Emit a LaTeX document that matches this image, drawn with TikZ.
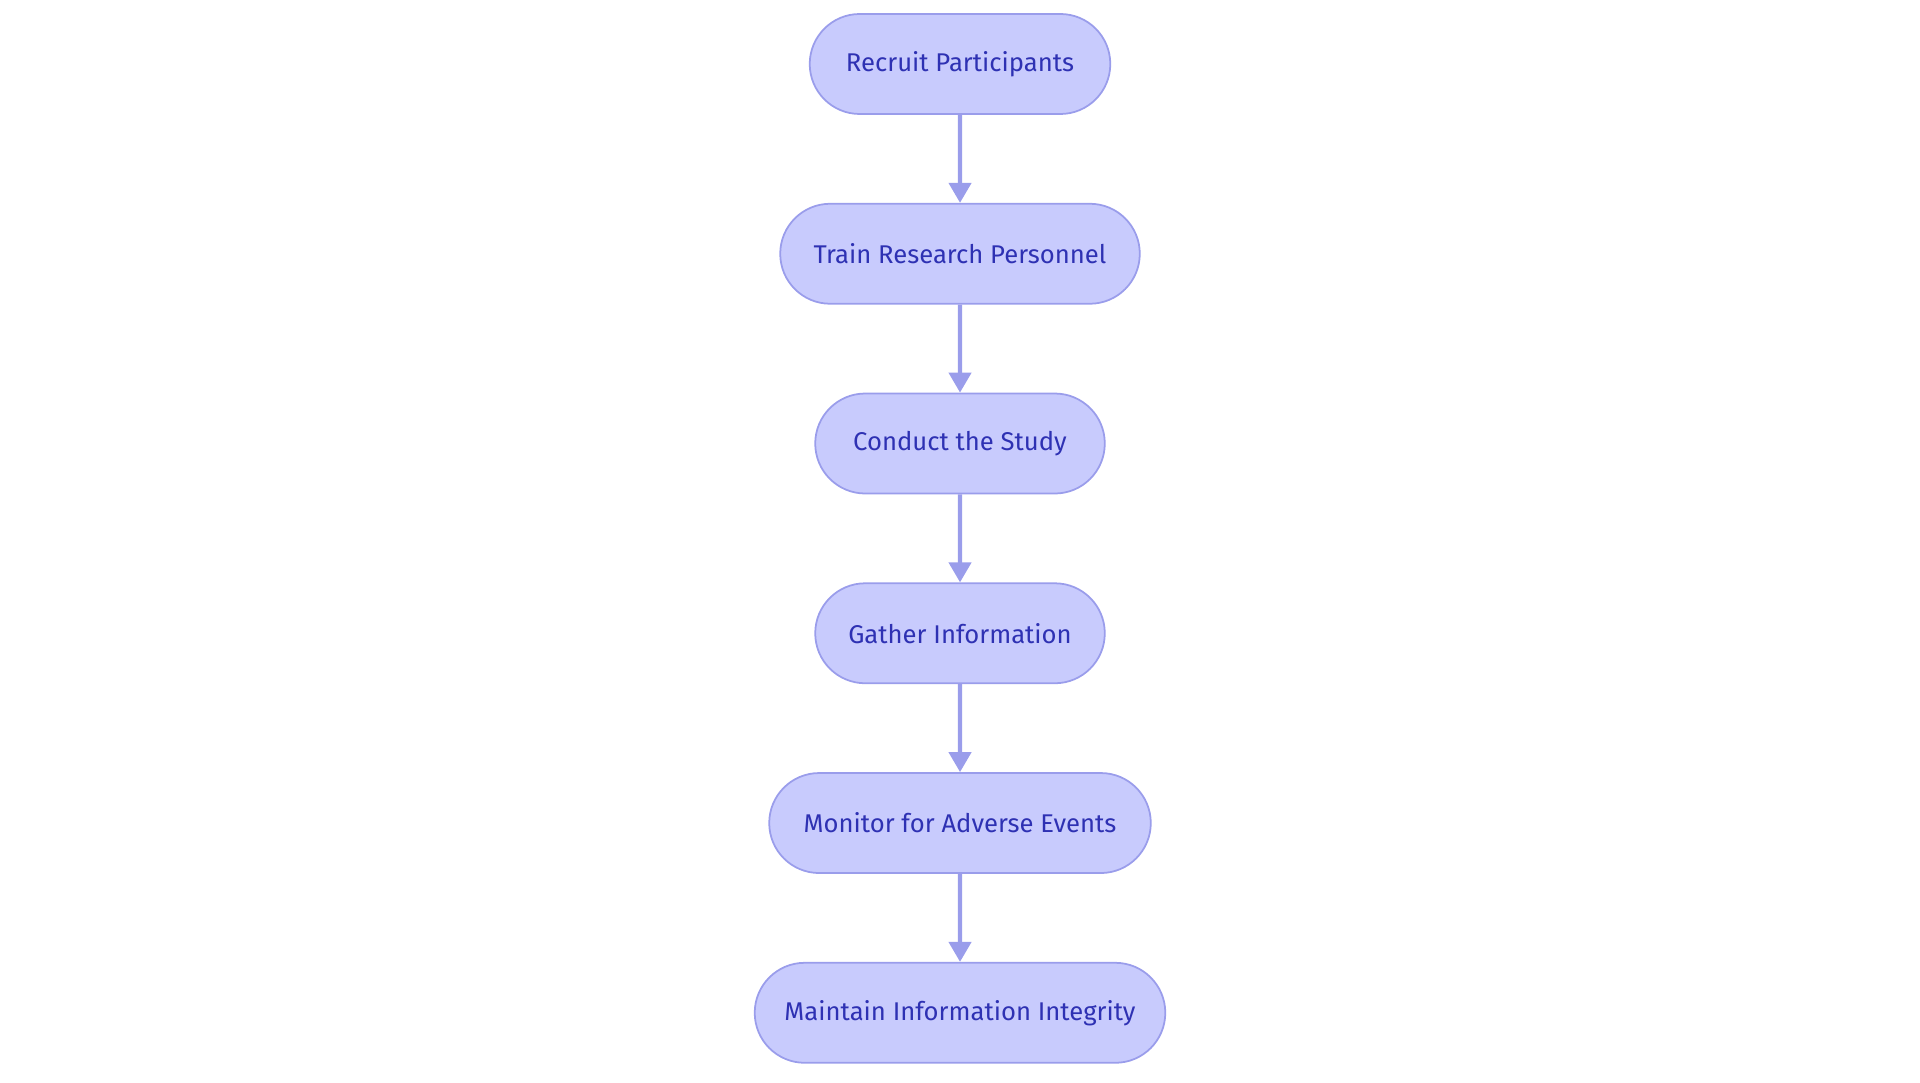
\documentclass[tikz,border=0pt]{standalone}
\usepackage{fontspec}
\setmainfont{Fira Sans}
\usepackage{tikz}
\usetikzlibrary{shapes.misc,arrows.meta,positioning}
\definecolor{stepfill}{HTML}{C8CBFD}
\definecolor{stepline}{HTML}{9A9DEB}
\definecolor{steptext}{HTML}{2E31B3}
\tikzset{
    stage/.style={rounded rectangle, draw=stepline, fill=stepfill, text=steptext,
        line width=0.5pt, minimum height=1.0cm, font=\fontsize{7.3}{8}\selectfont},
    flow/.style={-{Triangle[length=0.2cm,width=0.22cm]}, draw=stepline, line width=1.2pt}
}

\begin{document}
\begin{tikzpicture}[node distance=0.88cm]
    \useasboundingbox (0,0) rectangle (19.2,-10.83);

    % Steps
    \node[stage, minimum width=3.24cm] (recruit) at (9.6,-0.64) {Recruit Participants};
    \node[stage, minimum width=3.83cm, below=of recruit] (train) {Train Research Personnel};
    \node[stage, minimum width=3.13cm, below=of train] (conduct) {Conduct the Study};
    \node[stage, minimum width=3.13cm, below=of conduct] (gather) {Gather Information};
    \node[stage, minimum width=4.05cm, below=of gather] (monitor) {Monitor for Adverse Events};
    \node[stage, minimum width=4.34cm, below=of monitor] (maintain) {Maintain Information Integrity};

    % Arrows
    \foreach \a/\b in {recruit/train,train/conduct,conduct/gather,gather/monitor,monitor/maintain} {
        \draw[flow] (\a) -- (\b);
    }
\end{tikzpicture}
\end{document}
